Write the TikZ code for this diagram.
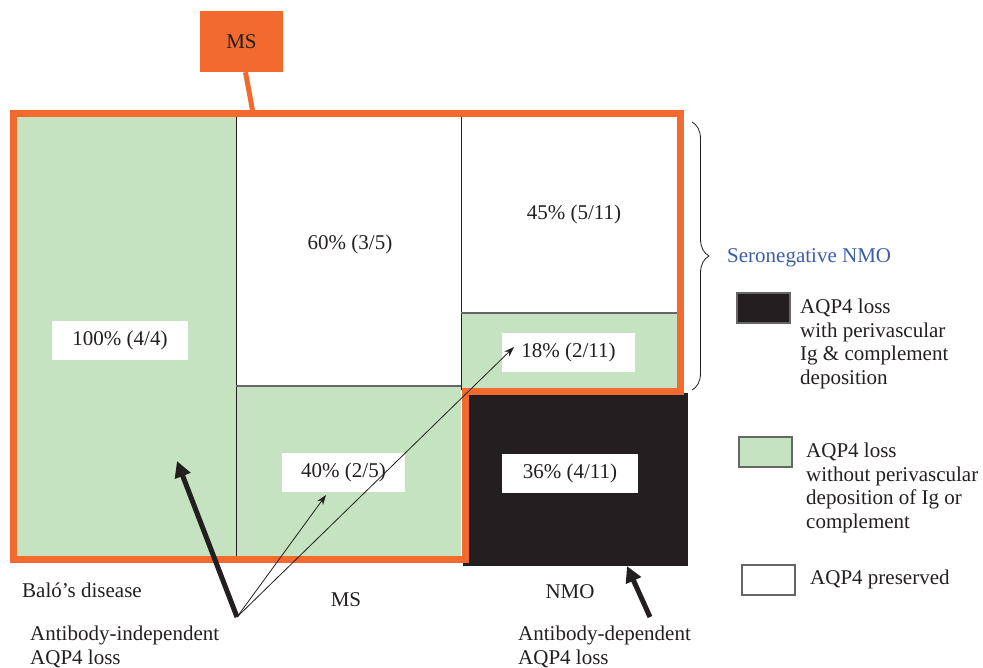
\documentclass[tikz,border=0pt]{standalone}
\usepackage{fontspec}
\setmainfont{Liberation Serif}
\usetikzlibrary{arrows.meta}
\usetikzlibrary{decorations.pathreplacing}
\definecolor{msorange}{HTML}{F26A2E}
\definecolor{aqpgreen}{HTML}{C5E3C0}
\definecolor{inkdark}{HTML}{231F20}
\definecolor{seroblue}{HTML}{3A5DA8}
\tikzset{
  txt/.style={font=\fontsize{21}{23.5}\selectfont, text=inkdark, inner sep=0pt},
  pctbox/.style={txt, fill=white, minimum width=136pt, minimum height=39pt},
  legbox/.style={draw=gray!80!black, line width=1.2pt, minimum width=53pt, minimum height=30pt, inner sep=0pt},
  thickarrow/.style={line width=5pt, inkdark, -{Triangle[length=16pt,width=16pt]}},
  thinarrow/.style={line width=0.8pt, inkdark, -{Stealth[length=10pt,width=7pt]}}
}
\begin{document}
\begin{tikzpicture}[x=1pt,y=-1pt]
    \useasboundingbox (0,0) rectangle (983,667);
    % cells
    \fill [aqpgreen] (14,116) rectangle (236,556);
    \fill [aqpgreen] (236,386) rectangle (461,556);
    \fill [aqpgreen] (461,313) rectangle (683,390);
    \fill [inkdark] (463,393) rectangle (688,566);
    \draw [line width=1pt, inkdark] (236,116) -- (236,556);
    \draw [line width=1pt, inkdark] (461,116) -- (461,390);
    \draw [line width=1.2pt, gray!80!black] (236,386) -- (461,386);
    \draw [line width=1.2pt, gray!80!black] (461,313) -- (683,313);
    % MS outline
    \draw [line width=7pt, msorange, line join=miter] (13,113) -- (680,113) -- (680,391) -- (465,391) -- (465,559) -- (13,559) -- cycle;
    \node [txt, fill=msorange, minimum width=83pt, minimum height=61pt] (msbox) at (241.5,41.5) {MS};
    \coordinate (msfoot) at (253,113);
    \draw [line width=5pt, msorange] (msbox.south) ++(4,0) -- (msfoot);
    % percentages
    \node [pctbox] (balo) at (120,340) {100\% (4/4)};
    \node [txt] (mswhite) at (350,244) {60\% (3/5)};
    \node [pctbox, minimum width=123pt] (msgreen) at (343.5,472.5) {40\% (2/5)};
    \node [txt] (nmowhite) at (574,214) {45\% (5/11)};
    \node [pctbox, minimum width=133pt] (nmogreen) at (568.5,352.5) {18\% (2/11)};
    \node [pctbox] (nmoblack) at (570,473.5) {36\% (4/11)};
    % brace
    \draw [line width=0.8pt, inkdark, decorate, decoration={brace, amplitude=17pt}] (692,122) -- (692,390);
    \node [txt, text=seroblue, anchor=west] (sero) at (727,258) {Seronegative NMO};
    % legend
    \node [legbox, fill=inkdark] (legblack) at (763.5,308) {};
    \node [txt, anchor=north west, align=left] (legblacktxt) at (800,299) {AQP4 loss\\with perivascular\\Ig \& complement\\deposition};
    \node [legbox, fill=aqpgreen] (leggreen) at (765.5,452) {};
    \node [txt, anchor=north west, align=left] (leggreentxt) at (806,443) {AQP4 loss\\without perivascular\\deposition of Ig or\\complement};
    \node [legbox, fill=white] (legwhite) at (768.5,580) {};
    \node [txt, anchor=west] (legwhitetxt) at (810,579) {AQP4 preserved};
    % group labels
    \node [txt, anchor=west] (balolbl) at (22,590) {Baló’s disease};
    \node [txt] (mslbl) at (346,600) {MS};
    \node [txt] (nmolbl) at (570,592) {NMO};
    \node [txt, anchor=north west, align=left] (indep) at (30,626) {Antibody-independent\\AQP4 loss};
    \node [txt, anchor=north west, align=left] (dep) at (518,626) {Antibody-dependent\\AQP4 loss};
    % arrows
    \coordinate (fan) at (237,617);
    \coordinate (balotip) at (177,461);
    \coordinate (msgreentip) at (326,495);
    \coordinate (nmogreentip) at (514,347);
    \coordinate (deptail) at (650,617);
    \coordinate (deptip) at (627,566);
    \draw [thickarrow] (fan) -- (balotip);
    \draw [thinarrow] (fan) -- (msgreentip);
    \draw [thinarrow] (fan) -- (nmogreentip);
    \draw [thickarrow] (deptail) -- (deptip);
\end{tikzpicture}
\end{document}
